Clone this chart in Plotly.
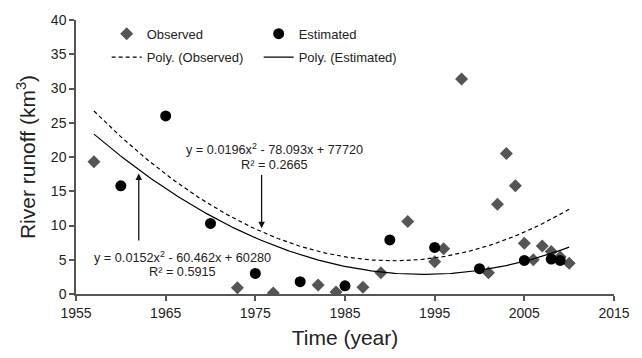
import numpy as np
import plotly.graph_objects as go

# Observed data (diamonds)
obs_year = [1957, 1973, 1977, 1982, 1984, 1987, 1989, 1992, 1995, 1996, 1998,
            2001, 2002, 2003, 2004, 2005, 2006, 2007, 2008, 2009, 2010]
obs_runoff = [19.3, 0.9, 0.15, 1.3, 0.3, 1.0, 3.1, 10.6, 4.7, 6.6, 31.4,
              3.1, 13.1, 20.5, 15.8, 7.4, 5.0, 7.0, 6.2, 5.4, 4.5]

# Estimated data (circles)
est_year = [1960, 1965, 1970, 1975, 1980, 1985, 1990, 1995, 2000, 2005, 2008, 2009]
est_runoff = [15.8, 26.0, 10.3, 3.0, 1.8, 1.2, 7.9, 6.8, 3.7, 4.9, 5.1, 4.9]

# Observed polynomial trend as drawn in the chart (vertex form: a, vertex year, min value)
obs_trend_params = [0.0196, 1990.4, 4.85]
trend_span = [1957, 2010]

x_ticks = [1955, 1965, 1975, 1985, 1995, 2005, 2015]
y_ticks = [0, 5, 10, 15, 20, 25, 30, 35, 40]

FONT = "Liberation Sans, Arial, sans-serif"
TXT = "#222222"

xx = np.linspace(trend_span[0], trend_span[1], 200)
a, h, k = obs_trend_params
ty_o = a * (xx - h) ** 2 + k
c_e = np.polyfit(np.asarray(est_year, float) - 1980, np.asarray(est_runoff, float), 2)
ty_e = np.polyval(c_e, xx - 1980)

fig = go.Figure()
fig.add_trace(go.Scatter(x=obs_year, y=obs_runoff, mode="markers", name="Observed",
                         marker=dict(symbol="diamond", size=10, color="#555555"),
                         legend="legend"))
fig.add_trace(go.Scatter(x=est_year, y=est_runoff, mode="markers", name="Estimated",
                         marker=dict(symbol="circle", size=11, color="#000000"),
                         legend="legend"))
fig.add_trace(go.Scatter(x=xx, y=ty_o, mode="lines", name="Poly. (Observed)",
                         line=dict(color="#000000", width=1.2, dash="4px,3px"),
                         legend="legend2"))
fig.add_trace(go.Scatter(x=xx, y=ty_e, mode="lines", name="Poly. (Estimated)",
                         line=dict(color="#000000", width=1.2),
                         legend="legend2"))

ann_font = dict(family=FONT, size=12.7, color=TXT)
fig.add_annotation(x=1977.1, y=21.1, text="y = 0.0196x<sup>2</sup> - 78.093x + 77720",
                   showarrow=False, font=ann_font)
fig.add_annotation(x=1977.1, y=18.9, text="R² = 0.2665", showarrow=False, font=ann_font)
fig.add_annotation(x=1966.9, y=5.4, text="y = 0.0152x<sup>2</sup> - 60.462x + 60280",
                   showarrow=False, font=ann_font)
fig.add_annotation(x=1966.9, y=3.2, text="R² = 0.5915", showarrow=False, font=ann_font)
# arrows
fig.add_annotation(x=1975.7, y=9.6, ax=1975.7, ay=17.6, axref="x", ayref="y",
                   text="", showarrow=True, arrowhead=2, arrowsize=1, arrowwidth=1.3,
                   arrowcolor="#111111")
fig.add_annotation(x=1962.0, y=17.6, ax=1962.0, ay=7.6, axref="x", ayref="y",
                   text="", showarrow=True, arrowhead=2, arrowsize=1, arrowwidth=1.3,
                   arrowcolor="#111111")

axis_common = dict(showgrid=False, zeroline=False, showline=True, linecolor="#555555",
                   linewidth=1.5, ticks="outside", ticklen=5, tickcolor="#555555",
                   tickwidth=1.5, tickfont=dict(family=FONT, size=14, color=TXT))

fig.update_xaxes(range=[1955, 2015], tickvals=x_ticks, ticktext=[str(v) for v in x_ticks],
                 title=dict(text="Time (year)", font=dict(family=FONT, size=21, color=TXT),
                            standoff=11),
                 **axis_common)
fig.update_yaxes(range=[0, 40], tickvals=y_ticks, ticktext=[str(v) for v in y_ticks],
                 title=dict(text="River runoff (km<sup>3</sup>)",
                            font=dict(family=FONT, size=21, color=TXT), standoff=10),
                 **axis_common)

leg_font = dict(family=FONT, size=13, color=TXT)
fig.update_layout(
    width=642, height=358,
    margin=dict(l=76, r=28, t=15, b=63),
    plot_bgcolor="white", paper_bgcolor="white",
    legend=dict(orientation="h", x=0.057, y=0.95, xanchor="left", yanchor="middle",
                entrywidth=107, entrywidthmode="pixels", font=leg_font,
                bgcolor="rgba(0,0,0,0)"),
    legend2=dict(orientation="h", x=0.057, y=0.864, xanchor="left", yanchor="middle",
                 entrywidth=107, entrywidthmode="pixels", font=leg_font,
                 bgcolor="rgba(0,0,0,0)"),
)

fig.write_html("out.html")
